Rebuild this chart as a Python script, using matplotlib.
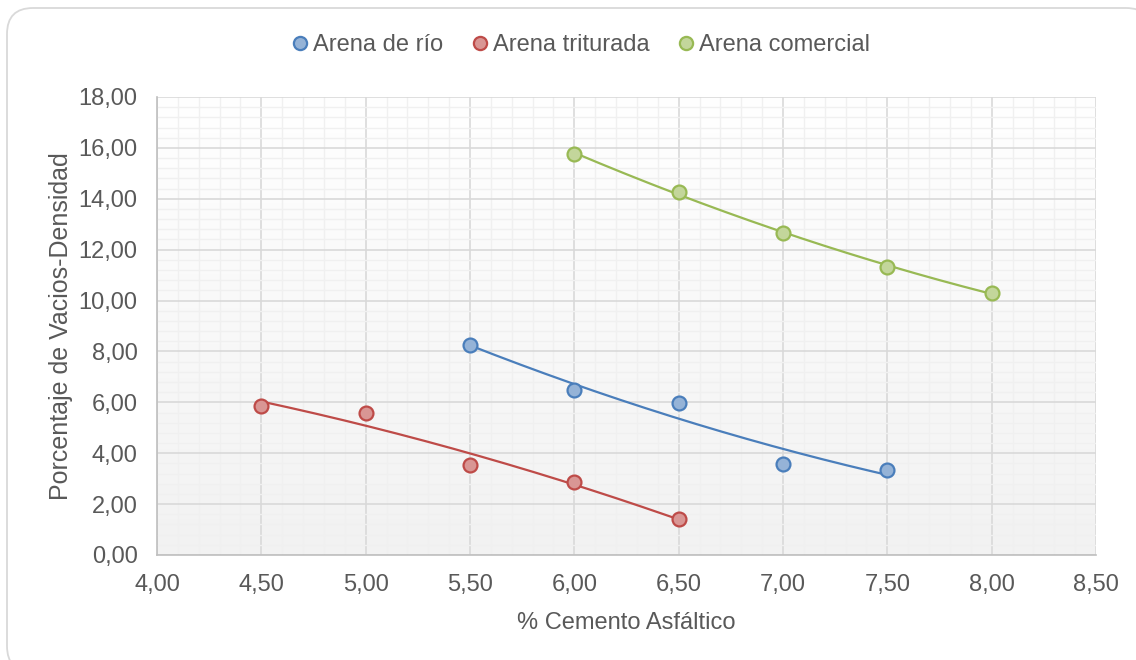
import numpy as np
import matplotlib
matplotlib.use("Agg")
import matplotlib.pyplot as plt
from matplotlib.patches import FancyBboxPatch
from matplotlib.ticker import MultipleLocator, FuncFormatter

plt.rcParams['font.family'] = ['Liberation Sans', 'DejaVu Sans']

# Data
asphalt_rio = [5.5, 6.0, 6.5, 7.0, 7.5]
voids_rio = [8.25, 6.49, 5.97, 3.58, 3.34]
asphalt_trit = [4.5, 5.0, 5.5, 6.0, 6.5]
voids_trit = [5.86, 5.58, 3.54, 2.87, 1.42]
asphalt_com = [6.0, 6.5, 7.0, 7.5, 8.0]
voids_com = [15.76, 14.27, 12.66, 11.32, 10.30]

series = [
    ("Arena de río", asphalt_rio, voids_rio, "#4a7ebb", "#95b3d7"),
    ("Arena triturada", asphalt_trit, voids_trit, "#be4b48", "#d99694"),
    ("Arena comercial", asphalt_com, voids_com, "#98b954", "#c3d69b"),
]

TEXT = "#595959"
W, H = 1136, 660
fig = plt.figure(figsize=(W / 100, H / 100), dpi=100)

# Rounded chart border (in inches; right and bottom edges run past the canvas)
border = FancyBboxPatch((0.07, -0.12), 11.45, 6.64,
                        boxstyle="round,pad=0,rounding_size=0.26",
                        transform=fig.dpi_scale_trans, fc="white", ec="#d9d9d9", lw=1.3,
                        zorder=-10)
fig.patches.append(border)

ax = fig.add_axes([157 / W, 1 - 555 / H, (1096 - 157) / W, (555 - 97) / H])
ax.set_facecolor("none")

# Vertical gradient in the plot area
grad = np.linspace(0, 1, 256).reshape(-1, 1)
cmap = matplotlib.colors.LinearSegmentedColormap.from_list("bg", ["#f2f2f2", "#ffffff"])
ax.imshow(grad, extent=[4.0, 8.5, 0, 18], origin="lower", aspect="auto",
          cmap=cmap, zorder=0)

ax.set_xlim(4.0, 8.5)
ax.set_ylim(0, 18)
ax.xaxis.set_major_locator(MultipleLocator(0.5))
ax.xaxis.set_minor_locator(MultipleLocator(0.1))
ax.yaxis.set_major_locator(MultipleLocator(2))
ax.yaxis.set_minor_locator(MultipleLocator(0.4))
fmt = FuncFormatter(lambda v, p: f"{v:.2f}".replace(".", ","))
ax.xaxis.set_major_formatter(fmt)
ax.yaxis.set_major_formatter(fmt)

ax.grid(which="minor", color="#f0f0f0", lw=1.0, zorder=1)
ax.grid(which="major", color="#d9d9d9", lw=1.2, zorder=1)
ax.tick_params(which="both", length=0)
ax.tick_params(axis="x", labelsize=17, labelcolor=TEXT, pad=14)
ax.tick_params(axis="y", labelsize=17, labelcolor=TEXT, pad=14)

for s in ["top", "right"]:
    ax.spines[s].set_visible(False)
for s in ["left", "bottom"]:
    ax.spines[s].set_color("#bfbfbf")
    ax.spines[s].set_linewidth(1.2)

for label, xs, ys, ec, fc in series:
    xs = np.asarray(xs)
    ys = np.asarray(ys)
    coef = np.polyfit(xs, ys, 2)
    xf = np.linspace(xs.min(), xs.max(), 200)
    ax.plot(xf, np.polyval(coef, xf), color=ec, lw=1.6, zorder=3)
    ax.plot(xs, ys, "o", ms=10, mfc=fc, mec=ec, mew=1.6, zorder=4, label=label)

ax.set_xlabel("% Cemento Asfáltico", fontsize=17, color=TEXT, labelpad=11)
ax.set_ylabel("Porcentaje de Vacios-Densidad", fontsize=18, color=TEXT, labelpad=4)

handles, labels = ax.get_legend_handles_labels()
leg = fig.legend(handles, labels, loc="center", bbox_to_anchor=(581 / W, 1 - 45 / H),
                 ncol=3, frameon=False, fontsize=17, handlelength=0.7,
                 handletextpad=0.2, columnspacing=1.2, markerscale=0.95,
                 borderpad=0, borderaxespad=0)
for t in leg.get_texts():
    t.set_color(TEXT)

fig.savefig("out.png", dpi=100)
